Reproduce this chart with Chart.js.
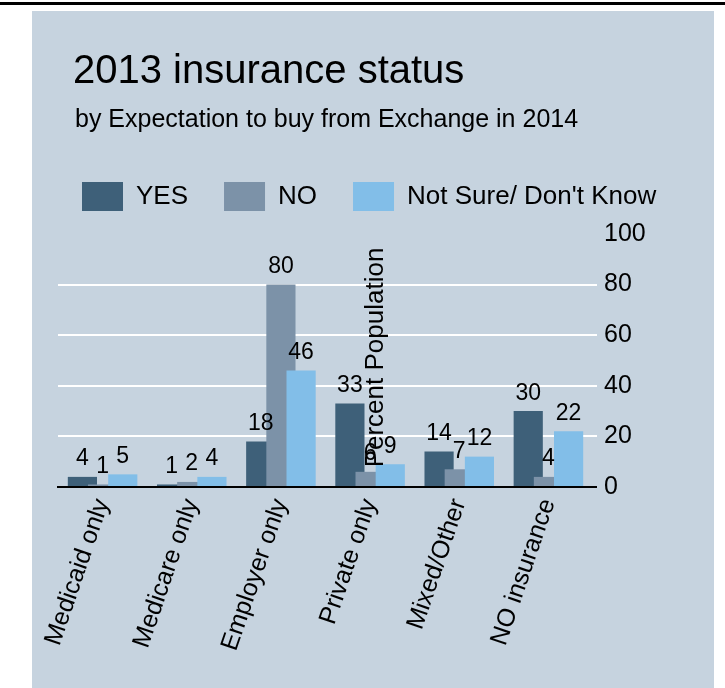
<!DOCTYPE html>
<html>
<head>
<meta charset="utf-8">
<script src="https://cdn.jsdelivr.net/npm/chart.js@4/dist/chart.umd.min.js"></script>
<style>
  html, body { margin:0; padding:0; background:#ffffff; width:725px; height:688px; overflow:hidden;
    font-family:"Liberation Sans", Arial, Helvetica, sans-serif; }
  #topline { position:absolute; left:0; top:2px; width:725px; height:3px; background:#000; }
  #panel { position:absolute; left:32px; top:11px; width:682px; height:677px; background:#c6d3df; }
  #title { position:absolute; left:41px; top:38px; font-size:40px; line-height:40px; color:#000; white-space:nowrap; }
  #subtitle { position:absolute; left:43px; top:95px; font-size:25px; line-height:25px; color:#000; white-space:nowrap; }
  #wrap { position:absolute; left:0; top:0; width:682px; height:677px; }
</style>
</head>
<body>
<div id="topline"></div>
<div id="panel">
  <div id="wrap"><canvas id="c" width="682" height="677"></canvas></div>
  <div id="title">2013 insurance status</div>
  <div id="subtitle">by Expectation to buy from Exchange in 2014</div>
</div>
<script>
// ---- data ----
const categories = ['Medicaid only', 'Medicare only', 'Employer only', 'Private only', 'Mixed/Other', 'NO insurance'];
const seriesLabels = ['YES', 'NO', "Not Sure/ Don't Know"];
const yesValues = [4, 1, 18, 33, 14, 30];
const noValues = [1, 2, 80, 6, 7, 4];
const notSureValues = [5, 4, 46, 9, 12, 22];
const yTickValues = [0, 20, 40, 60, 80, 100];
const yAxisTitle = 'Percent Population';

// ---- styles ----
const FONT = '"Liberation Sans", Arial, Helvetica, sans-serif';
const seriesColors = ['#3e6079', '#7c92a8', '#82bee8'];

// draw datasets in index order so later series sit on top of earlier ones
const drawInOrder = {
  id: 'drawInOrder',
  beforeDatasetsDraw(chart) {
    for (let i = 0; i < chart.data.datasets.length; i++) {
      if (chart.isDatasetVisible(i)) chart.getDatasetMeta(i).controller.draw();
    }
    return false;
  }
};

const valueLabels = {
  id: 'valueLabels',
  afterDraw(chart) {
    const ctx = chart.ctx;
    ctx.save();
    ctx.font = '23px ' + FONT;
    ctx.fillStyle = '#000';
    ctx.textAlign = 'center';
    ctx.textBaseline = 'alphabetic';
    chart.data.datasets.forEach((ds, i) => {
      chart.getDatasetMeta(i).data.forEach((bar, j) => {
        ctx.fillText(String(ds.data[j]), bar.x, bar.y - 11.5);
      });
    });
    const a = chart.chartArea;
    ctx.translate(a.left + (a.right - a.left) * 0.595, (a.top + a.bottom) / 2 - 3);
    ctx.rotate(-Math.PI / 2);
    ctx.font = '26px ' + FONT;
    ctx.textBaseline = 'middle';
    ctx.fillText(yAxisTitle, 0, 0);
    ctx.restore();
  }
};

const seriesValues = [yesValues, noValues, notSureValues];

new Chart(document.getElementById('c'), {
  type: 'bar',
  data: {
    labels: categories,
    datasets: seriesLabels.map((name, i) => ({
      label: name,
      data: seriesValues[i],
      backgroundColor: seriesColors[i],
      borderColor: seriesColors[i],
      borderWidth: 0,
      xAxisID: 'x',
      yAxisID: 'y',
      categoryPercentage: 0.679,
      barPercentage: 1.446
    }))
  },
  options: {
    responsive: false,
    animation: false,
    layout: { padding: { top: 135, left: 14, right: 0, bottom: 22 } },
    plugins: {
      legend: {
        display: true,
        position: 'top',
        align: 'start',
        labels: {
          boxWidth: 41, boxHeight: 29, padding: 36, color: '#000',
          font: { family: FONT, size: 26 }
        }
      },
      title: { display: false },
      tooltip: { enabled: false }
    },
    scales: {
      x: {
        type: 'category',
        position: 'bottom',
        offset: true,
        afterFit: (s) => { s.height = 179; },
        grid: { display: false, drawTicks: false },
        border: { display: true, color: '#000', width: 2 },
        ticks: {
          minRotation: 71, maxRotation: 71, padding: 8, autoSkip: false,
          color: '#000', font: { family: FONT, size: 25 }
        }
      },
      y: {
        position: 'right',
        min: 0, max: 100,
        afterBuildTicks: (s) => { s.ticks = yTickValues.map(v => ({ value: v })); },
        afterFit: (s) => { s.width = 121; },
        grid: {
          color: (c) => c.tick && c.tick.value === 0 ? '#000' : (c.tick && c.tick.value === 100 ? 'rgba(0,0,0,0)' : '#ffffff'),
          lineWidth: 2,
          tickLength: 4,
          drawTicks: true
        },
        border: { display: false },
        ticks: { padding: 7, color: '#000', font: { family: FONT, size: 25 } }
      },
      padTop: {
        type: 'linear', position: 'top', display: true,
        grid: { display: false }, border: { display: false }, ticks: { display: false },
        afterFit: (s) => { s.height = 13; }
      },
      padLeft: {
        type: 'linear', position: 'left', display: true,
        grid: { display: false }, border: { display: false }, ticks: { display: false },
        afterFit: (s) => { s.width = 12; }
      }
    }
  },
  plugins: [drawInOrder, valueLabels]
});
</script>
</body>
</html>
